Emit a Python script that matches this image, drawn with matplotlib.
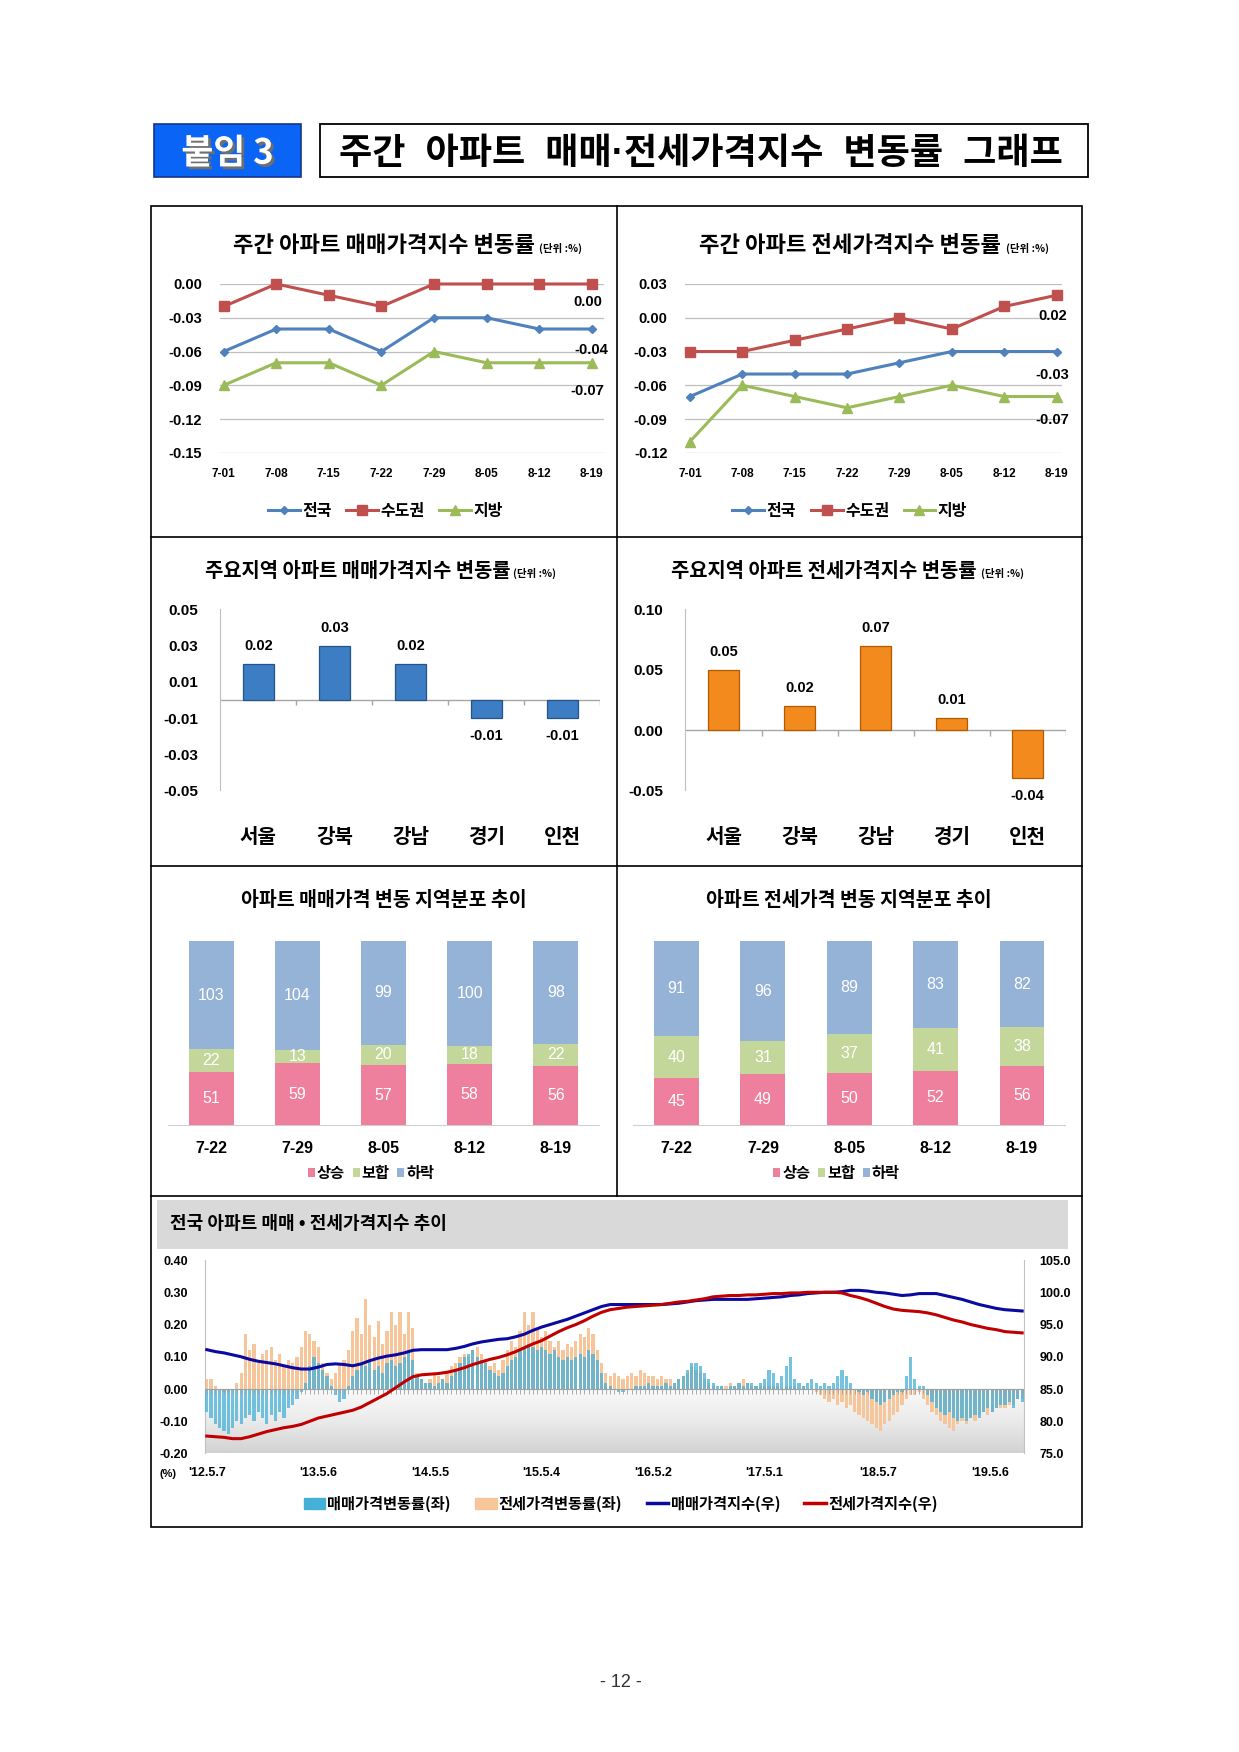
import numpy as np
import matplotlib
matplotlib.use('Agg')
import matplotlib.pyplot as plt
from matplotlib.patches import Rectangle, Patch
from matplotlib.lines import Line2D
from matplotlib.colors import LinearSegmentedColormap
import matplotlib.patheffects as pe

plt.rcParams['font.family'] = ['Liberation Sans', 'Noto Sans CJK KR', 'DejaVu Sans']
plt.rcParams['axes.unicode_minus'] = False

# ---- data ----
week_labels = ['7-01', '7-08', '7-15', '7-22', '7-29', '8-05', '8-12', '8-19']
sale_nat = [-0.06, -0.04, -0.04, -0.06, -0.03, -0.03, -0.04, -0.04]
sale_cap = [-0.02, 0.00, -0.01, -0.02, 0.00, 0.00, 0.00, 0.00]
sale_loc = [-0.09, -0.07, -0.07, -0.09, -0.06, -0.07, -0.07, -0.07]
jeon_nat = [-0.07, -0.05, -0.05, -0.05, -0.04, -0.03, -0.03, -0.03]
jeon_cap = [-0.03, -0.03, -0.02, -0.01, 0.00, -0.01, 0.01, 0.02]
jeon_loc = [-0.11, -0.06, -0.07, -0.08, -0.07, -0.06, -0.07, -0.07]

regions = ['서울', '강북', '강남', '경기', '인천']
sale_region = [0.02, 0.03, 0.02, -0.01, -0.01]
jeon_region = [0.05, 0.02, 0.07, 0.01, -0.04]

dist_labels = ['7-22', '7-29', '8-05', '8-12', '8-19']
sale_up = [51, 59, 57, 58, 56]
sale_flat = [22, 13, 20, 18, 22]
sale_down = [103, 104, 99, 100, 98]
jeon_up = [45, 49, 50, 52, 56]
jeon_flat = [40, 31, 37, 41, 38]
jeon_down = [91, 96, 89, 83, 82]

# long series: weekly rates read every 2 weeks, index every 4 weeks ('12.5.7 ~ '19.8.19)
sale_rate = [
    -0.07, -0.09, -0.11, -0.12, -0.13, -0.14, -0.12, -0.10, -0.11, -0.09, -0.08, -0.10, -0.07,
    -0.09, -0.11, -0.08, -0.10, -0.07, -0.09, -0.06, -0.05, -0.03, -0.01, 0.02, 0.07, 0.10,
    0.08, 0.06, 0.04, 0.01, -0.02, -0.04, -0.03, 0.01, 0.04, 0.06, 0.08, 0.07, 0.09,
    0.06, 0.07, 0.05, 0.08, 0.09, 0.07, 0.08, 0.10, 0.12, 0.09, 0.04, 0.03, 0.02,
    0.02, 0.01, 0.02, 0.03, 0.02, 0.04, 0.06, 0.08, 0.10, 0.11, 0.12, 0.10, 0.09,
    0.08, 0.06, 0.05, 0.04, 0.05, 0.07, 0.09, 0.10, 0.12, 0.13, 0.14, 0.13, 0.12,
    0.13, 0.12, 0.11, 0.12, 0.10, 0.09, 0.10, 0.09, 0.10, 0.11, 0.10, 0.12, 0.11,
    0.09, 0.05, 0.02, 0.01, 0.00, -0.01, -0.01, 0.00, 0.00, 0.01, 0.01, 0.01, 0.02,
    0.01, 0.01, 0.01, 0.02, 0.01, 0.02, 0.03, 0.04, 0.06, 0.08, 0.08, 0.07, 0.05,
    0.03, 0.02, 0.01, 0.01, 0.00, 0.01, 0.01, 0.02, 0.01, 0.02, 0.02, 0.01, 0.02,
    0.03, 0.06, 0.05, 0.02, 0.04, 0.07, 0.10, 0.03, 0.02, 0.01, 0.02, 0.03, 0.02,
    0.01, 0.02, 0.01, 0.02, 0.04, 0.06, 0.04, 0.02, 0.00, -0.01, -0.02, -0.01, -0.03,
    -0.04, -0.05, -0.04, -0.03, -0.02, -0.01, -0.01, 0.04, 0.10, 0.03, 0.01, 0.01, -0.02,
    -0.04, -0.06, -0.07, -0.08, -0.07, -0.09, -0.10, -0.09, -0.10, -0.09, -0.08, -0.09, -0.07,
    -0.06, -0.07, -0.06, -0.05, -0.05, -0.04, -0.06, -0.03, -0.04,
]
jeon_rate = [
    0.03, 0.03, 0.01, 0.00, -0.01, -0.01, 0.00, 0.02, 0.05, 0.17, 0.12, 0.14, 0.08,
    0.11, 0.12, 0.13, 0.09, 0.11, 0.07, 0.09, 0.08, 0.10, 0.13, 0.18, 0.17, 0.15,
    0.13, 0.08, 0.05, 0.03, 0.05, 0.08, 0.09, 0.12, 0.18, 0.22, 0.17, 0.28, 0.20,
    0.16, 0.21, 0.14, 0.18, 0.24, 0.20, 0.24, 0.17, 0.24, 0.19, 0.05, 0.03, 0.02,
    0.03, 0.05, 0.04, 0.03, 0.05, 0.07, 0.08, 0.10, 0.11, 0.10, 0.12, 0.13, 0.11,
    0.09, 0.07, 0.08, 0.06, 0.09, 0.12, 0.15, 0.13, 0.18, 0.24, 0.20, 0.24, 0.19,
    0.16, 0.18, 0.15, 0.13, 0.15, 0.12, 0.14, 0.13, 0.15, 0.17, 0.16, 0.19, 0.17,
    0.12, 0.08, 0.05, 0.04, 0.05, 0.04, 0.03, 0.04, 0.05, 0.04, 0.06, 0.05, 0.04,
    0.04, 0.03, 0.04, 0.03, 0.03, 0.02, 0.03, 0.04, 0.05, 0.07, 0.06, 0.05, 0.03,
    0.02, 0.01, 0.00, 0.01, 0.01, 0.02, 0.01, 0.02, 0.03, 0.02, 0.01, 0.01, 0.01,
    0.01, 0.01, 0.01, 0.01, 0.00, 0.01, 0.01, 0.01, 0.00, 0.01, 0.00, 0.00, -0.01,
    -0.02, -0.03, -0.04, -0.03, -0.05, -0.04, -0.06, -0.05, -0.07, -0.08, -0.09, -0.10, -0.11,
    -0.12, -0.13, -0.11, -0.10, -0.08, -0.07, -0.05, -0.03, -0.02, -0.02, -0.01, -0.03, -0.05,
    -0.07, -0.08, -0.10, -0.11, -0.12, -0.13, -0.11, -0.10, -0.11, -0.09, -0.10, -0.08, -0.07,
    -0.08, -0.07, -0.06, -0.06, -0.06, -0.05, -0.05, -0.03, -0.03,
]
sale_index = [
    91.1, 90.8, 90.6, 90.3, 90.0, 89.6, 89.3, 89.1, 88.9, 88.6, 88.3, 88.1, 88.1,
    88.4, 88.8, 88.9, 88.8, 88.6, 88.9, 89.4, 89.8, 90.1, 90.3, 90.6, 91.0, 91.1,
    91.1, 91.1, 91.1, 91.3, 91.6, 92.0, 92.3, 92.5, 92.7, 92.8, 93.1, 93.5, 94.1,
    94.6, 95.0, 95.4, 95.8, 96.3, 96.8, 97.3, 97.8, 98.1, 98.1, 98.1, 98.1, 98.1,
    98.1, 98.1, 98.2, 98.3, 98.5, 98.7, 98.8, 98.9, 98.9, 98.9, 98.9, 98.9, 99.0,
    99.1, 99.2, 99.3, 99.5, 99.6, 99.8, 99.9, 100.0, 100.0, 100.1, 100.3, 100.3, 100.2,
    100.0, 99.9, 99.7, 99.5, 99.6, 99.8, 99.8, 99.8, 99.5, 99.2, 98.9, 98.5, 98.1,
    97.8, 97.5, 97.3, 97.2, 97.1,
]
jeon_index = [
    77.7, 77.6, 77.5, 77.3, 77.3, 77.6, 78.0, 78.4, 78.7, 79.0, 79.2, 79.5, 80.0,
    80.5, 80.8, 81.1, 81.4, 81.7, 82.2, 82.9, 83.6, 84.3, 85.2, 86.1, 86.9, 87.2,
    87.3, 87.4, 87.6, 87.9, 88.3, 88.8, 89.2, 89.6, 89.9, 90.3, 90.8, 91.4, 92.0,
    92.5, 93.2, 93.9, 94.5, 95.0, 95.6, 96.3, 96.9, 97.3, 97.5, 97.7, 97.8, 97.9,
    98.0, 98.1, 98.3, 98.5, 98.6, 98.8, 99.0, 99.3, 99.4, 99.5, 99.5, 99.6, 99.6,
    99.7, 99.8, 99.8, 99.9, 99.9, 100.0, 100.0, 100.0, 100.0, 99.9, 99.5, 99.2, 98.8,
    98.3, 97.8, 97.4, 97.2, 97.1, 97.0, 96.8, 96.5, 96.1, 95.7, 95.4, 95.0, 94.7,
    94.4, 94.2, 93.9, 93.8, 93.7,
]
long_ticks = [0, 52, 104, 156, 208, 260, 313, 365]
long_labels = ["'12.5.7", "'13.5.6", "'14.5.5", "'15.5.4", "'16.5.2", "'17.5.1", "'18.5.7", "'19.5.6"]
last_week = 380

# ---- layout helpers (page coords) ----
W, H = 1108.0, 1567.0
fig = plt.figure(figsize=(12.39, 17.52), dpi=100)


def rect(x0, y0, x1, y1):
    return [x0 / W, 1 - y1 / H, (x1 - x0) / W, (y1 - y0) / H]


def fx(x):
    return x / W


def fy(y):
    return 1 - y / H


def fline(x0, y0, x1, y1, lw=1.2, color='black'):
    fig.add_artist(Line2D([fx(x0), fx(x1)], [fy(y0), fy(y1)], transform=fig.transFigure,
                          color=color, lw=lw))


NARROW = ['Liberation Sans Narrow', 'Liberation Sans', 'Noto Sans CJK KR']
KR = ['Noto Sans CJK KR', 'DejaVu Sans']

# ---- header ----
fig.add_artist(Rectangle((fx(138), fy(158)), (269 - 138) / W, 47 / H, transform=fig.transFigure,
                         fc='#0A64F5', ec='#17358A', lw=1.2))
fig.text(fx(203.5), fy(137), '붙임 3', ha='center', va='center', fontsize=25, fontweight='bold',
         color='white', family=KR,
         path_effects=[pe.SimplePatchShadow(offset=(2, -2), shadow_rgbFace='#6F6F6F', alpha=1.0),
                       pe.Normal()])
fig.add_artist(Rectangle((fx(286), fy(158)), (973 - 286) / W, 47 / H, transform=fig.transFigure,
                         fill=False, ec='black', lw=1.3))
fig.text(fx(627), fy(138), '주간  아파트  매매·전세가격지수  변동률  그래프', ha='center', va='center',
         fontsize=26, fontweight='bold', family=['Liberation Sans', 'Noto Sans CJK KR'])

# frame
fig.add_artist(Rectangle((fx(135), fy(1366)), (968 - 135) / W, (1366 - 184) / H,
                         transform=fig.transFigure, fill=False, ec='black', lw=1.2))
fline(552, 184, 552, 1070)
for yy in (480, 775, 1070):
    fline(135, yy, 968, yy)


def panel_title(x, y, title, unit_x, size=15):
    fig.text(fx(x), fy(y), title, fontsize=size, fontweight='bold', va='baseline', family=KR)
    if unit_x is not None:
        fig.text(fx(unit_x), fy(y), '(단위 :%)', fontsize=7.5, fontweight='bold', va='baseline',
                 family=KR)


# ---- weekly line panels ----
def line_panel(box, xlims, ylims, yticks, series, offsets, legend_x):
    ax = fig.add_axes(rect(*box))
    x = np.arange(len(week_labels))
    styles = [('전국', '#4F81BD', 'D', 4.5), ('수도권', '#C0504D', 's', 7), ('지방', '#9BBB59', '^', 7)]
    for vals, (name, c, m, ms), off in zip(series, styles, offsets):
        ax.plot(x, vals, color=c, lw=2.2, marker=m, ms=ms, label=name, clip_on=False, zorder=3)
        ax.annotate(f'{vals[-1]:.2f}', (x[-1], vals[-1]), xytext=off, textcoords='offset points',
                    ha='center', va='center', fontsize=10.5, fontweight='bold')
    ax.set_xlim(xlims)
    ax.set_ylim(ylims)
    ax.set_yticks(yticks)
    ax.set_yticklabels([f'{v:.2f}' for v in yticks], fontsize=10.5, fontweight='bold')
    ax.set_xticks(x)
    ax.set_xticklabels(week_labels, fontsize=8.5, fontweight='bold')
    ax.grid(axis='y', color='#BFBFBF', lw=0.9)
    ax.set_axisbelow(True)
    for s in ax.spines.values():
        s.set_visible(False)
    ax.tick_params(length=0)
    ax.tick_params(axis='y', pad=13)
    ax.tick_params(axis='x', pad=11)
    h, l = ax.get_legend_handles_labels()
    fig.legend(h, l, loc='center', bbox_to_anchor=(fx(legend_x), fy(457)), ncol=3, frameon=False,
               prop={'size': 11.5, 'weight': 'bold', 'family': KR},
               handlelength=2.0, columnspacing=0.9, handletextpad=0.15)
    return ax


panel_title(208, 225, '주간 아파트 매매가격지수 변동률', 482, size=16)
line_panel((197, 254, 540, 405), (-0.064, 7.23), (-0.15, 0.0),
           [0.0, -0.03, -0.06, -0.09, -0.12, -0.15],
           [sale_nat, sale_cap, sale_loc], [(0, -15), (-3, -13), (-3, -20)], 345)

panel_title(625, 225, '주간 아파트 전세가격지수 변동률', 900, size=16)
line_panel((613, 254, 950, 405), (-0.085, 7.11), (-0.12, 0.03),
           [0.03, 0.0, -0.03, -0.06, -0.09, -0.12],
           [jeon_nat, jeon_cap, jeon_loc], [(-3, -17), (-3, -15), (-3, -17)], 760)


# ---- regional bar panels ----
def bar_panel(box, vals, ylims, yticks, color, edge):
    ax = fig.add_axes(rect(*box))
    x = np.arange(len(regions))
    ax.bar(x, vals, width=0.4, color=color, edgecolor=edge, lw=0.9, zorder=3)
    for xi, v in zip(x, vals):
        ax.annotate(f'{v:.2f}', (xi, v), xytext=(0, 13 if v > 0 else -13), textcoords='offset points',
                    ha='center', va='center', fontsize=10.5, fontweight='bold')
    ax.set_xlim(-0.5, len(regions) - 0.5)
    ax.set_ylim(ylims)
    ax.set_yticks(yticks)
    ax.set_yticklabels([f'{v:.2f}' for v in yticks], fontsize=11, fontweight='bold', family=NARROW)
    for k in ('top', 'right', 'bottom'):
        ax.spines[k].set_visible(False)
    ax.spines['left'].set_color('#BFBFBF')
    ax.axhline(0, color='#A6A6A6', lw=1.0, zorder=2)
    tick_h = (ylims[1] - ylims[0]) * 5 / 162
    ax.vlines(x + 0.5, -tick_h, 0, color='#A6A6A6', lw=1.0)
    ax.set_xticks([])
    ax.tick_params(axis='y', length=0, pad=16)
    for xi, name in zip(x, regions):
        ax.annotate(name, (xi, 0), xycoords=('data', 'axes fraction'), xytext=(0, -33),
                    textcoords='offset points', ha='center', va='center', fontsize=14.5,
                    fontweight='bold', family=KR)
    return ax


panel_title(183, 516, '주요지역 아파트 매매가격지수 변동률', 459, size=14.3)
bar_panel((197, 545, 537, 707), sale_region, (-0.05, 0.05),
          [0.05, 0.03, 0.01, -0.01, -0.03, -0.05], '#3C7DC4', '#24548C')

panel_title(600, 516, '주요지역 아파트 전세가격지수 변동률', 877, size=14.3)
bar_panel((613, 545, 953, 707), jeon_region, (-0.05, 0.10),
          [0.10, 0.05, 0.00, -0.05], '#F28A1E', '#B35A00')


# ---- distribution stacked panels ----
def stack_panel(box, up, flat, down, legend_x):
    ax = fig.add_axes(rect(*box))
    x = np.arange(len(dist_labels))
    bottom = np.zeros(len(x))
    for vals, c, name in [(up, '#EE809D', '상승'), (flat, '#C4D79B', '보합'), (down, '#95B3D7', '하락')]:
        vals = np.array(vals)
        ax.bar(x, vals, bottom=bottom, width=0.52, color=c, label=name, zorder=3)
        for xi, v, b in zip(x, vals, bottom):
            ax.text(xi, b + v / 2, str(v), ha='center', va='center', color='white', fontsize=11.5,
                    family=NARROW, zorder=4)
        bottom = bottom + vals
    ax.set_xlim(-0.5, len(x) - 0.5)
    ax.set_ylim(0, bottom.max())
    for k in ('top', 'right', 'left'):
        ax.spines[k].set_visible(False)
    ax.spines['bottom'].set_color('#D0D0D0')
    ax.set_yticks([])
    ax.set_xticks(x)
    ax.set_xticklabels(dist_labels, fontsize=11.5, fontweight='bold', family=NARROW)
    ax.tick_params(axis='x', length=0, pad=12)
    h, l = ax.get_legend_handles_labels()
    fig.legend(h, l, loc='center', bbox_to_anchor=(fx(legend_x), fy(1049)), ncol=3, frameon=False,
               prop={'size': 11, 'weight': 'bold', 'family': KR},
               handlelength=0.45, handleheight=0.45, handletextpad=0.15, columnspacing=0.5)
    return ax


fig.text(fx(343), fy(810), '아파트 매매가격 변동 지역분포 추이', ha='center', va='baseline',
         fontsize=14, fontweight='bold', family=KR)
stack_panel((150.5, 842, 535.5, 1006), sale_up, sale_flat, sale_down, 332)

fig.text(fx(759), fy(810), '아파트 전세가격 변동 지역분포 추이', ha='center', va='baseline',
         fontsize=14, fontweight='bold', family=KR)
stack_panel((566.4, 842, 952.6, 1006), jeon_up, jeon_flat, jeon_down, 748)

# ---- long-term panel ----
fig.add_artist(Rectangle((fx(140), fy(1117)), (955 - 140) / W, (1117 - 1073) / H,
                         transform=fig.transFigure, fc='#D9D9D9', ec='none'))
fig.text(fx(152), fy(1094), '전국 아파트 매매 • 전세가격지수 추이', va='center', fontsize=13,
         fontweight='bold', family=KR)

ax = fig.add_axes(rect(183, 1127, 916, 1300))
grad = LinearSegmentedColormap.from_list('g', ['#FAFAFA', '#EBEBEB', '#D2D2D2'])
ax.imshow(np.linspace(0, 1, 200).reshape(-1, 1), extent=[-1, last_week + 1, -0.2, 0],
          aspect='auto', cmap=grad, origin='upper', zorder=0)
xs = np.linspace(0, last_week, len(sale_rate))
xj = np.linspace(0, last_week, len(jeon_rate))
ax.bar(xj, jeon_rate, width=1.5, color='#F7C59A', zorder=2)
ax.bar(xs, sale_rate, width=1.5, color='#45B0D8', alpha=0.75, zorder=3)
ax.vlines(np.arange(0, last_week + 1, 2), -0.015, 0, color='#A0A0A0', lw=0.6, zorder=4)
ax.axhline(0, color='#A0A0A0', lw=0.8, zorder=4)
ax.set_xlim(-1, last_week + 1)
ax.set_ylim(-0.2, 0.4)
lt = np.round(np.arange(-0.2, 0.41, 0.1), 2)
ax.set_yticks(lt)
ax.set_yticklabels([f'{v:.2f}' for v in lt], fontsize=9, fontweight='bold', family=NARROW)
ax.set_xticks(long_ticks)
ax.set_xticklabels(long_labels, fontsize=9, fontweight='bold', family=NARROW)
ax.tick_params(length=0)
ax.tick_params(axis='y', pad=12)
ax.tick_params(axis='x', pad=10)
for k in ('top', 'bottom'):
    ax.spines[k].set_visible(False)
for k in ('left', 'right'):
    ax.spines[k].set_color('#C0C0C0')

ax2 = ax.twinx()
ax2.plot(np.linspace(0, last_week, len(sale_index)), sale_index, color='#0A0AA0', lw=2.2)
ax2.plot(np.linspace(0, last_week, len(jeon_index)), jeon_index, color='#C00000', lw=2.2)
ax2.set_ylim(75, 105)
rt = np.arange(75, 105.1, 5)
ax2.set_yticks(rt)
ax2.set_yticklabels([f'{v:.1f}' for v in rt], fontsize=9, fontweight='bold', family=NARROW)
ax2.tick_params(length=0, pad=11)
for k in ('top', 'bottom', 'left', 'right'):
    ax2.spines[k].set_visible(False)

fig.text(fx(150), fy(1318), '(%)', va='center', ha='center', fontsize=8, fontweight='bold',
         family=NARROW)

handles = [Patch(color='#45B0D8'), Patch(color='#F7C59A'),
           Line2D([], [], color='#0A0AA0', lw=2.5), Line2D([], [], color='#C00000', lw=2.5)]
labels = ['매매가격변동률(좌)', '전세가격변동률(좌)', '매매가격지수(우)', '전세가격지수(우)']
fig.legend(handles, labels, loc='center', bbox_to_anchor=(fx(555), fy(1345)), ncol=4, frameon=False,
           prop={'size': 11, 'weight': 'bold', 'family': KR},
           handlelength=1.4, handleheight=0.8, handletextpad=0.15, columnspacing=1.6)

fig.text(fx(555), fy(1505), '- 12 -', ha='center', va='center', fontsize=13, color='#333333')

fig.savefig('out.png', dpi=100)
